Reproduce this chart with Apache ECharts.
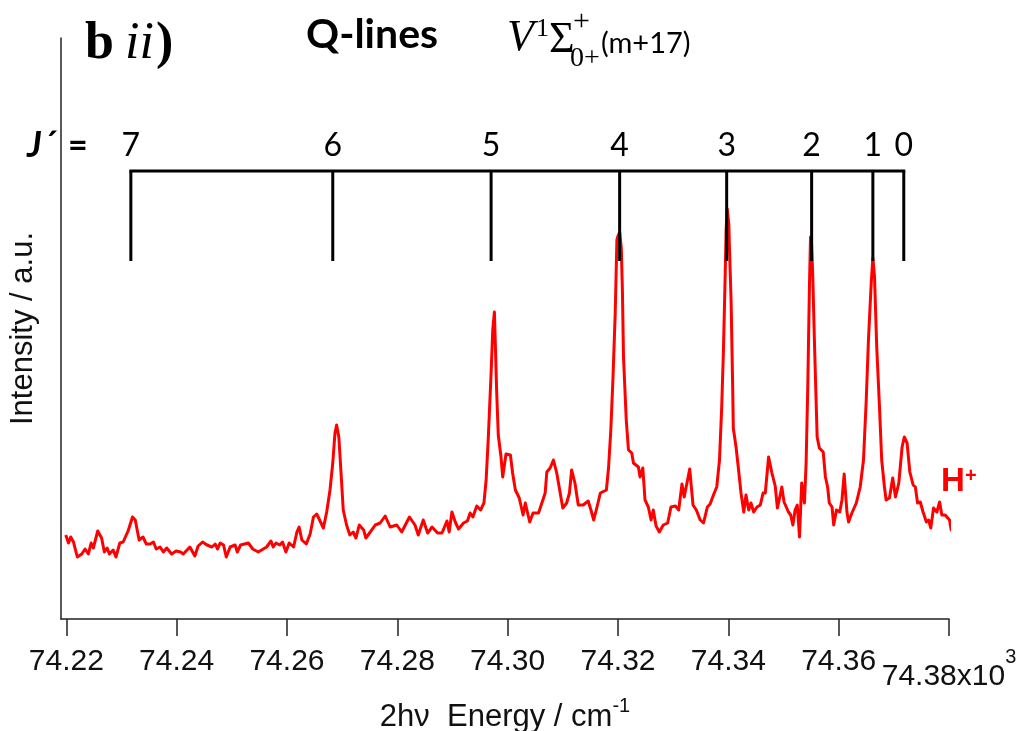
<!DOCTYPE html>
<html><head><meta charset="utf-8">
<script src="https://cdn.jsdelivr.net/npm/echarts@6/dist/echarts.min.js"></script>
<style>html,body{margin:0;padding:0;background:#fff}#c{width:1027px;height:731px}</style>
</head><body><div id="c"></div>
<script>
// ---- data ----
const energy = [
74.2199,74.2204,74.2208,74.2213,74.2220,74.2228,74.2234,74.2240,74.2245,74.2249,
74.2257,74.2264,74.2269,74.2274,74.2278,74.2285,74.2290,74.2297,74.2303,74.2312,
74.2320,74.2325,74.2332,74.2339,74.2345,74.2352,74.2358,74.2363,74.2370,74.2376,
74.2382,74.2391,74.2399,74.2407,74.2412,74.2424,74.2433,74.2439,74.2447,74.2455,
74.2464,74.2470,74.2474,74.2479,74.2485,74.2490,74.2497,74.2506,74.2510,74.2516,
74.2530,74.2538,74.2548,74.2557,74.2563,74.2571,74.2575,74.2580,74.2587,74.2592,
74.2598,74.2604,74.2612,74.2618,74.2622,74.2627,74.2635,74.2642,74.2648,74.2654,
74.2660,74.2666,74.2672,74.2678,74.2683,74.2687,74.2690,74.2694,74.2698,74.2702,
74.2708,74.2714,74.2720,74.2725,74.2731,74.2739,74.2743,74.2751,74.2760,74.2769,
74.2778,74.2787,74.2799,74.2808,74.2822,74.2832,74.2838,74.2847,74.2855,74.2863,
74.2873,74.2881,74.2890,74.2894,74.2899,74.2905,74.2911,74.2920,74.2927,74.2932,
74.2937,74.2944,74.2951,74.2957,74.2961,74.2965,74.2970,74.2973,74.2976,74.2978,
74.2980,74.2983,74.2988,74.2991,74.2997,74.3005,74.3009,74.3014,74.3021,74.3028,
74.3032,74.3040,74.3046,74.3056,74.3062,74.3068,74.3071,74.3077,74.3083,74.3089,
74.3094,74.3100,74.3107,74.3112,74.3116,74.3122,74.3128,74.3137,74.3146,74.3151,
74.3156,74.3162,74.3168,74.3179,74.3183,74.3187,74.3191,74.3195,74.3198,74.3200,
74.3203,74.3206,74.3208,74.3210,74.3215,74.3219,74.3225,74.3228,74.3237,74.3240,
74.3245,74.3249,74.3255,74.3260,74.3264,74.3269,74.3275,74.3282,74.3290,74.3296,
74.3304,74.3310,74.3316,74.3320,74.3325,74.3330,74.3336,74.3342,74.3349,74.3355,
74.3362,74.3367,74.3373,74.3379,74.3384,74.3388,74.3391,74.3394,74.3396,74.3398,
74.3401,74.3402,74.3405,74.3408,74.3409,74.3414,74.3418,74.3423,74.3428,74.3432,
74.3437,74.3441,74.3446,74.3452,74.3458,74.3463,74.3467,74.3473,74.3479,74.3485,
74.3489,74.3497,74.3501,74.3509,74.3513,74.3517,74.3521,74.3525,74.3529,74.3533,
74.3538,74.3541,74.3544,74.3547,74.3549,74.3551,74.3553,74.3556,74.3561,74.3565,
74.3572,74.3576,74.3580,74.3583,74.3588,74.3591,74.3596,74.3602,74.3606,74.3610,
74.3615,74.3618,74.3624,74.3632,74.3639,74.3645,74.3650,74.3654,74.3659,74.3662,
74.3665,74.3669,74.3674,74.3678,74.3683,74.3686,74.3692,74.3698,74.3703,74.3709,
74.3715,74.3719,74.3724,74.3729,74.3735,74.3739,74.3743,74.3748,74.3753,74.3759,
74.3763,74.3767,74.3772,74.3778,74.3783,74.3787,74.3793,74.3801,74.3804,74.3807
];
const intensity = [
84,76,82,77,62,65,70,65,76,71,
88,81,67,71,65,69,62,76,77,88,
102,99,79,82,75,75,77,70,72,67,
71,65,68,67,65,72,63,73,77,74,
72,75,70,76,74,62,72,74,67,74,
76,70,67,70,72,78,72,76,74,77,
67,76,72,87,92,79,75,85,102,105,
98,91,107,129,156,186,194,182,146,109,
94,84,87,81,94,89,81,87,94,96,
103,92,94,87,102,94,84,99,86,92,
86,86,98,87,107,97,90,96,98,106,
102,113,109,116,139,182,246,289,307,269,
229,184,162,142,165,164,146,129,121,104,
116,97,106,106,116,126,147,151,159,146,
130,111,116,126,149,136,114,114,118,109,
99,112,126,129,152,189,242,306,379,383,
387,371,329,262,199,169,166,156,152,142,
151,119,112,99,109,93,87,94,96,112,
113,109,135,122,136,150,114,109,99,96,
112,115,124,132,159,212,266,336,389,410,
394,372,319,229,191,172,152,126,107,124,
109,116,107,112,114,126,126,162,146,133,
111,132,117,107,104,94,109,114,82,136,
116,156,232,332,382,374,344,279,182,171,
167,142,132,116,112,94,109,107,119,145,
107,97,106,116,132,159,219,279,336,361,
342,272,212,159,132,119,121,141,122,136,
172,182,176,147,134,132,116,117,107,97,
99,91,111,107,117,104,104,99,89,99
];
const jLevels = [7, 6, 5, 4, 3, 2, 1, 0];
const jEnergy = [74.2317, 74.2683, 74.2970, 74.3203, 74.3397, 74.3551, 74.3662, 74.3718];
const xTicks = [74.22, 74.24, 74.26, 74.28, 74.30, 74.32, 74.34, 74.36, 74.38];
const xTickLabels = ['74.22', '74.24', '74.26', '74.28', '74.30', '74.32', '74.34', '74.36', '74.38x10'];
const xExponent = '3';

// ---- layout constants ----
const rungTop = 448, rungBottom = 358, labelLevel = 473.4;
const SANS = '"Liberation Sans", Arial, sans-serif';
const SERIF = '"Liberation Serif", "Times New Roman", serif';
const CAL = 'Lato, "Open Sans", sans-serif';

const chart = echarts.init(document.getElementById('c'), null, {renderer: 'canvas'});
const spectrum = energy.map((e, i) => [e, intensity[i]]);
const ladder = jEnergy.map((e, i) => [e, jLevels[i]]);

chart.setOption({
  animation: false,
  backgroundColor: '#fff',
  grid: {left: 61, right: 78, top: 38, bottom: 112, containLabel: false, outerBoundsMode: 'none'},
  xAxis: {
    type: 'value', min: 74.21904, max: 74.38,
    axisLine: {show: true, onZero: false, lineStyle: {color: '#222', width: 1.5}},
    axisTick: {show: true, length: 17, lineStyle: {color: '#222', width: 1.5}, customValues: xTicks},
    axisLabel: {
      customValues: xTicks, margin: 28, fontSize: 30, fontFamily: SANS, color: '#111',
      formatter: function (v) {
        let idx = xTicks.findIndex(t => Math.abs(t - v) < 1e-7);
        if (idx < 0) return '';
        if (idx === xTicks.length - 1) return '{l|' + xTickLabels[idx] + '}{s|' + xExponent + '}';
        return xTickLabels[idx];
      },
      rich: {
        l: {fontSize: 30, fontFamily: SANS, color: '#111', padding: [15, 0, 0, 0]},
        s: {fontSize: 20, fontFamily: SANS, color: '#111', verticalAlign: 'top'}
      }
    },
    splitLine: {show: false},
    name: '{m|2h\u03bd  Energy / cm}{s|-1}',
    nameLocation: 'middle', nameGap: 68,
    nameTextStyle: {
      rich: {
        m: {fontSize: 31, fontFamily: SANS, color: '#111'},
        s: {fontSize: 20, fontFamily: SANS, color: '#111', verticalAlign: 'top', padding: [0, 0, 22, 0]}
      }
    }
  },
  yAxis: {
    type: 'value', min: 0, max: 581,
    axisLine: {show: true, lineStyle: {color: '#222', width: 1.5}},
    axisTick: {show: false}, axisLabel: {show: false}, splitLine: {show: false},
    name: 'Intensity / a.u.', nameLocation: 'middle', nameGap: 22,
    nameTextStyle: {fontSize: 31, fontFamily: SANS, color: '#111'}
  },
  series: [
    {
      type: 'line', data: spectrum, symbol: 'none', clip: false, z: 2,
      lineStyle: {color: '#ff0000', width: 3, join: 'round'}
    },
    {
      type: 'line', data: [[jEnergy[0], rungTop], [jEnergy[jEnergy.length - 1], rungTop]],
      symbol: 'none', z: 5, lineStyle: {color: '#000', width: 3, cap: 'square'}
    },
    {
      type: 'custom', data: ladder, z: 6, clip: false,
      renderItem: function (params, api) {
        const e = api.value(0);
        const a = api.coord([e, rungTop]);
        const b = api.coord([e, rungBottom]);
        const t = api.coord([e, labelLevel]);
        return {
          type: 'group', children: [
            {type: 'line', shape: {x1: a[0], y1: a[1], x2: b[0], y2: b[1]}, style: {stroke: '#000', lineWidth: 3}},
            {type: 'text', x: t[0], y: t[1], style: {text: String(api.value(1)), font: '32px ' + CAL, fill: '#000', textAlign: 'center', textVerticalAlign: 'middle'}}
          ]
        };
      }
    }
  ],
  graphic: [
    {type: 'text', x: 85, y: 44.5, style: {text: 'b', font: 'bold 52px ' + SERIF, fill: '#000', textVerticalAlign: 'middle'}},
    {type: 'text', x: 125, y: 44.5, style: {text: 'ii', font: 'italic 52px ' + SERIF, fill: '#000', textVerticalAlign: 'middle'}},
    {type: 'text', x: 156, y: 44.5, style: {text: ')', font: 'bold 52px ' + SERIF, fill: '#000', textVerticalAlign: 'middle'}},
    {type: 'text', x: 306, y: 34.5, style: {text: 'Q-lines', font: 'bold 41px ' + CAL, fill: '#000', textVerticalAlign: 'middle'}},
    {type: 'text', x: 507, y: 38, style: {text: 'V', font: 'italic 44px ' + SERIF, fill: '#000', textVerticalAlign: 'middle'}},
    {type: 'text', x: 536, y: 28.8, style: {text: '1', font: '26px ' + SERIF, fill: '#000', textVerticalAlign: 'middle'}},
    {type: 'text', x: 549, y: 40.5, style: {text: '\u03a3', font: '44px ' + SERIF, fill: '#000', textVerticalAlign: 'middle'}},
    {type: 'text', x: 573, y: 22.4, style: {text: '+', font: '30px ' + SERIF, fill: '#000', textVerticalAlign: 'middle'}},
    {type: 'text', x: 570, y: 58.8, style: {text: '0+', font: '28px ' + SERIF, fill: '#000', textVerticalAlign: 'middle'}},
    {type: 'text', x: 601, y: 43.8, style: {text: '(m+17)', font: '29px ' + CAL, fill: '#000', textVerticalAlign: 'middle'}},
    {type: 'text', x: 27, y: 145.6, style: {text: 'J\u00b4', font: 'italic bold 36px ' + CAL, fill: '#000', textVerticalAlign: 'middle'}},
    {type: 'text', x: 68, y: 145.6, style: {text: '=', font: 'bold 34px ' + CAL, fill: '#000', textVerticalAlign: 'middle'}},
    {type: 'text', x: 941, y: 481.6, style: {text: 'H', font: 'bold 33px ' + SANS, fill: '#ff0000', textVerticalAlign: 'middle'}},
    {type: 'text', x: 965, y: 476.7, style: {text: '+', font: 'bold 20px ' + SANS, fill: '#ff0000', textVerticalAlign: 'middle'}}
  ]
});
</script></body></html>
